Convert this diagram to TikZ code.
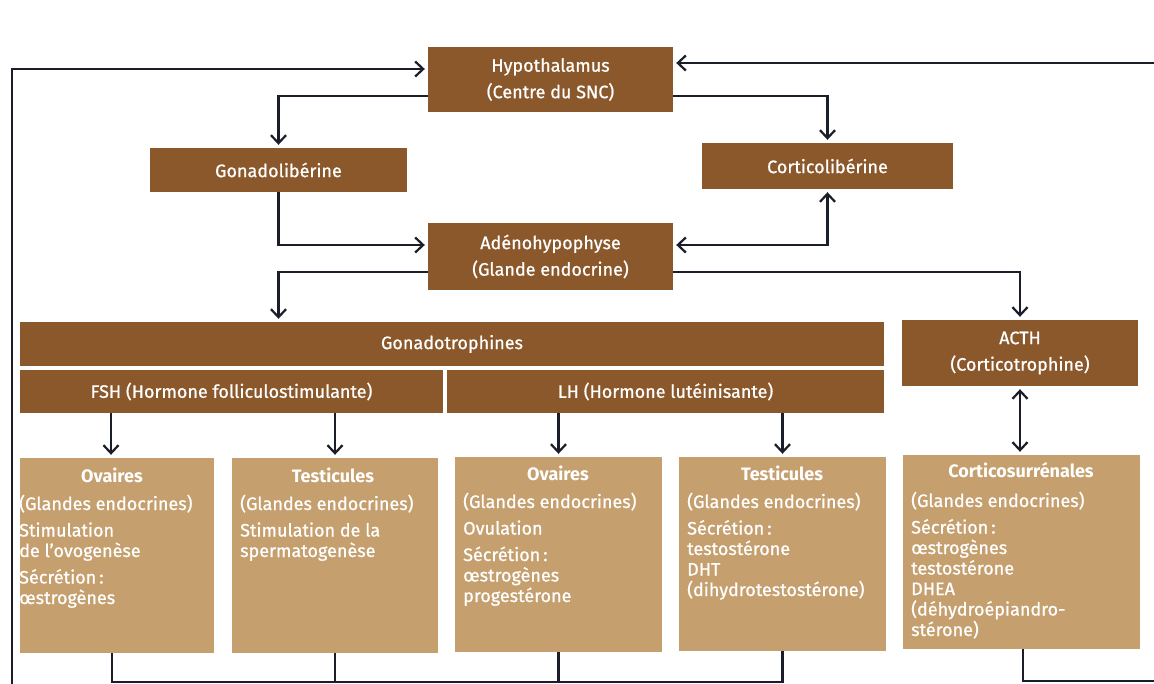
\documentclass[tikz,border=0pt]{standalone}
\usepackage{fontspec}
\setmainfont{Fira Sans}
\newfontfamily\medfont{Fira Sans}[FakeBold=0.8]
\usetikzlibrary{arrows.meta}
\definecolor{darkbrown}{RGB}{139,88,44}
\definecolor{tanbox}{RGB}{197,159,110}
\definecolor{ink}{RGB}{26,30,42}
\newcommand\lblfont{\fontsize{18}{20.5}\selectfont\medfont}
\newcommand\ttlfont{\fontsize{18}{20.5}\selectfont\bfseries}
\newcommand\bodytext[1]{\parbox[t]{230pt}{\raggedright #1}}
\begin{document}
\begin{tikzpicture}[x=1pt,y=-1pt,
  dbox/.style={fill=darkbrown, draw=none, inner sep=0pt, text=white, font=\lblfont, align=center},
  lbox/.style={fill=tanbox, draw=none, inner sep=0pt},
  ttl/.style={anchor=base, inner sep=0pt, text=white, font=\ttlfont},
  body/.style={anchor=base west, inner sep=0pt, text=white, font=\lblfont},
  line/.style={draw=ink, line width=2.2pt},
  arr/.style={line, -{Straight Barb[length=8pt,width=15pt]}, shorten >=3pt},
  arrboth/.style={line, {Straight Barb[length=8pt,width=15pt]}-{Straight Barb[length=8pt,width=15pt]}, shorten >=3pt, shorten <=3pt}]
\useasboundingbox (0,0) rectangle (1154,684);
\fill[white] (0,0) rectangle (1154,684);

% top boxes
\node[dbox, minimum width=245pt, minimum height=65pt] (hyp) at (550.5,79.5) {Hypothalamus\\[6pt](Centre du SNC)};
\node[dbox, minimum width=257pt, minimum height=44pt] (gona) at (278.5,170) {Gonadolibérine};
\node[dbox, minimum width=251pt, minimum height=46pt] (cort) at (827.5,166) {Corticolibérine};
\node[dbox, minimum width=245pt, minimum height=67pt] (adeno) at (550.5,256.5) {Adénohypophyse\\[6pt](Glande endocrine)};
\node[dbox, minimum width=864pt, minimum height=44pt] (gonadotr) at (452,344) {Gonadotrophines};
\node[dbox, minimum width=423pt, minimum height=43pt] (fsh) at (231.5,391.5) {FSH (Hormone folliculostimulante)};
\node[dbox, minimum width=437pt, minimum height=43pt] (lh) at (665.5,391.5) {LH (Hormone lutéinisante)};
\node[dbox, minimum width=236pt, minimum height=66pt] (acth) at (1020,353) {ACTH\\[6pt](Corticotrophine)};

% lower boxes
\node[lbox, minimum width=194pt, minimum height=195pt] (ov1) at (117,555.5) {};
\node[lbox, minimum width=206pt, minimum height=195pt] (te1) at (335,555.5) {};
\node[lbox, minimum width=207pt, minimum height=195pt] (ov2) at (558.5,554.5) {};
\node[lbox, minimum width=207pt, minimum height=194pt] (te2) at (782.5,554) {};
\node[lbox, minimum width=237pt, minimum height=194pt] (cs) at (1021.5,552) {};

\node[ttl] (ov1t) at (112,482) {Ovaires};
\node[body] (ov1b) at (19,510) {\bodytext{(Glandes endocrines)\\[6pt]Stimulation\\de l’ovogenèse\\[6pt]Sécrétion\,:\\œstrogènes}};
\node[ttl] (te1t) at (333,482) {Testicules};
\node[body] (te1b) at (240,510) {\bodytext{(Glandes endocrines)\\[6pt]Stimulation de la\\spermatogenèse}};
\node[ttl] (ov2t) at (558,480) {Ovaires};
\node[body] (ov2b) at (463,508) {\bodytext{(Glandes endocrines)\\[6pt]Ovulation\\[6pt]Sécrétion\,:\\œstrogènes\\progestérone}};
\node[ttl] (te2t) at (782,480) {Testicules};
\node[body] (te2b) at (687,508) {\bodytext{(Glandes endocrines)\\[6pt]Sécrétion\,:\\testostérone\\DHT\\(dihydrotestostérone)}};
\node[ttl] (cst) at (1021,477) {Corticosurrénales};
\node[body] (csb) at (911,507) {\bodytext{(Glandes endocrines)\\[6pt]Sécrétion\,:\\œstrogènes\\testostérone\\DHEA\\(déhydroépiandro-\\stérone)}};

% free ends
\coordinate (fbL) at (12,684);
\coordinate (fbR) at (1154,63);
\coordinate (fbR2) at (1154,681);

% connectors
\draw[arr] (fbL) |- (hyp.west |- 0,69);
\draw[arr] (fbR) -- (hyp.east |- fbR);
\draw[arr] (hyp.west |- 0,96) -| (gona.north);
\draw[arr] (hyp.east |- 0,96) -| (cort.north);
\draw[arr] (gona.south) |- (adeno.west |- 0,245);
\draw[arrboth] (adeno.east |- 0,245) -| (cort.south);
\draw[arr] (adeno.west |- 0,272) -| (gona.south |- gonadotr.north);
\draw[arr] (adeno.east |- 0,272) -| (acth.north);
\draw[arrboth] (acth.south) -- (acth.south |- cs.north);

\draw[arr] (fsh.south -| 111,0) -- (ov1.north -| 111,0);
\draw[arr] (fsh.south -| te1.north) -- (te1.north);
\draw[arr] (lh.south -| ov2.north) -- (ov2.north);
\draw[arr] (lh.south -| te2.north) -- (te2.north);

\draw[line] (ov1.south -| 112,0) |- (te2.south |- 0,682) -- (te2.south);
\draw[line] (te1.south) -- (te1.south |- 0,682);
\draw[line] (ov2.south) -- (ov2.south |- 0,682);
\draw[line] (cs.south -| 1023,0) |- (fbR2);
\end{tikzpicture}
\end{document}
